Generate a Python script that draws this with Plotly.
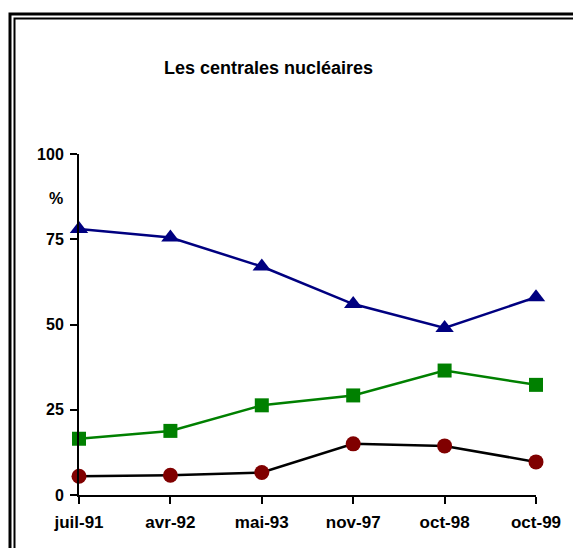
import plotly.graph_objects as go

categories = ["juil-91", "avr-92", "mai-93", "nov-97", "oct-98", "oct-99"]
serie_triangles = [78, 75.5, 67, 56, 49, 58]
serie_carres = [16.5, 18.8, 26.3, 29.2, 36.5, 32.3]
serie_cercles = [5.5, 5.8, 6.6, 15, 14.4, 9.7]
y_ticks = [0, 25, 50, 75, 100]

OFF = 7  # page body offset
W, H = 581 - OFF, 548 - OFF
L, R, T, B = 78 - OFF, 46, 153 - OFF, 54
pw, ph = W - L - R, H - T - B

def px(x):
    return (x - OFF - L) / pw

def py(y):
    return (H - B - (y - OFF)) / ph

FONT = "Arial, Liberation Sans, sans-serif"

fig = go.Figure()
fig.add_trace(go.Scatter(x=categories, y=serie_triangles, mode="lines+markers",
                         line=dict(color="#000080", width=2.5),
                         marker=dict(symbol="triangle-up", size=16, color="#000080")))
fig.add_trace(go.Scatter(x=categories, y=serie_carres, mode="lines+markers",
                         line=dict(color="#008000", width=2.5),
                         marker=dict(symbol="square", size=14, color="#008000")))
fig.add_trace(go.Scatter(x=categories, y=serie_cercles, mode="lines+markers",
                         line=dict(color="#000000", width=2.5),
                         marker=dict(symbol="circle", size=15, color="#800000")))

shapes = [
    dict(type="rect", xref="paper", yref="paper", x0=px(9), x1=px(600), y0=py(13), y1=py(600),
         line=dict(color="black", width=3), fillcolor="rgba(0,0,0,0)"),
    dict(type="rect", xref="paper", yref="paper", x0=px(13.5), x1=px(600), y0=py(17.5), y1=py(600),
         line=dict(color="black", width=2), fillcolor="rgba(0,0,0,0)"),
]

fig.update_layout(
    width=W, height=H,
    margin=dict(l=L, r=R, t=T, b=B),
    paper_bgcolor="white", plot_bgcolor="white",
    showlegend=False,
    font=dict(family=FONT, color="black"),
    shapes=shapes,
    annotations=[
        dict(text="Les centrales nucléaires", xref="paper", yref="paper",
             x=px(267), y=py(67), xanchor="center", yanchor="middle", showarrow=False,
             font=dict(size=18, family=FONT, weight="bold")),
        dict(text="%", xref="paper", yref="paper",
             x=px(55), y=py(197), xanchor="center", yanchor="middle", showarrow=False,
             font=dict(size=16, family=FONT, weight="bold")),
    ],
    xaxis=dict(type="category", range=[0, 5], showgrid=False, zeroline=False,
               showline=True, linecolor="black", linewidth=2,
               ticks="outside", ticklen=7, tickwidth=2, tickcolor="black",
               ticklabelstandoff=4,
               tickfont=dict(size=17, family=FONT, weight="bold")),
    yaxis=dict(range=[0, 100], tickvals=y_ticks, showgrid=False, zeroline=False,
               showline=True, linecolor="black", linewidth=2,
               ticks="outside", ticklen=7, tickwidth=2, tickcolor="black",
               ticklabelstandoff=3,
               tickfont=dict(size=16, family=FONT, weight="bold")),
)
fig.update_traces(cliponaxis=False)
fig.write_html("out.html")
